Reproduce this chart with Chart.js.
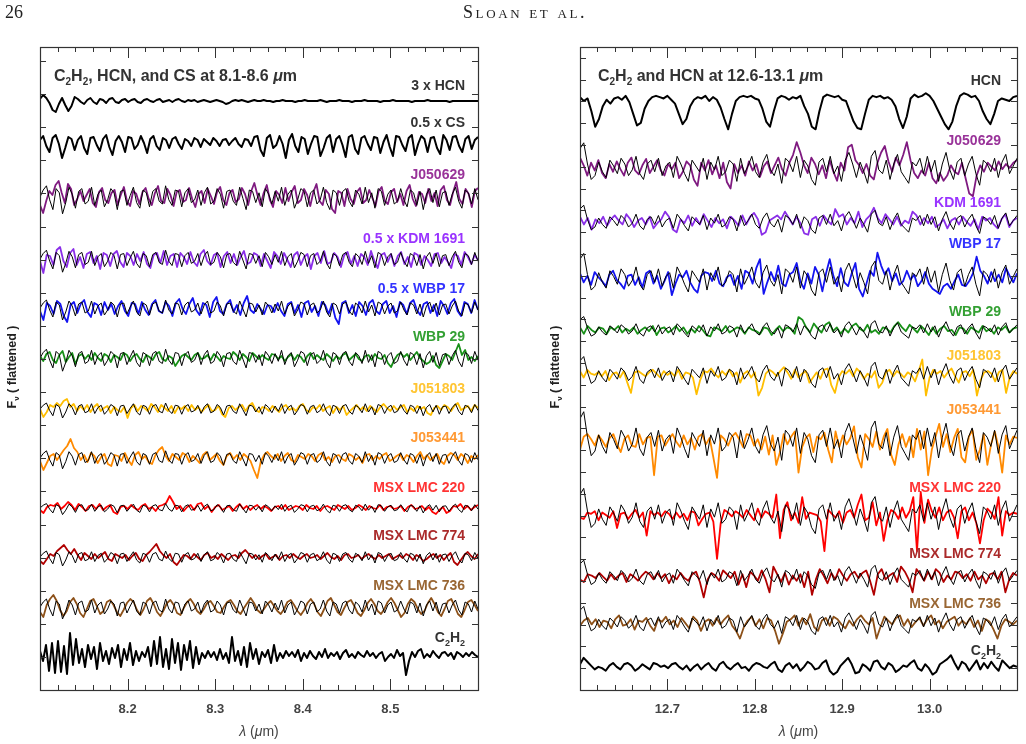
<!DOCTYPE html>
<html lang="en">
<head>
<meta charset="UTF-8">
<title>Sloan et al. - C2H2, HCN and CS bands</title>
<script src="https://cdn.jsdelivr.net/npm/chart.js"></script>
<style>
    body { margin: 0; width: 1026px; height: 744px; background: #fff; position: relative; overflow: hidden; }
    .hdr { position: absolute; top: 2px; font-family: "Liberation Serif", "DejaVu Serif", serif; font-size: 18px; line-height: 20px; color: #222; z-index: 2; }
    #pageNum { left: 5px; }
    #running { left: 463px; font-variant: small-caps; letter-spacing: 2.6px; }
    .panel { position: absolute; top: 0; width: 513px; height: 744px; }
</style>
</head>
<body>
<div class="hdr" id="pageNum">26</div>
<div class="hdr" id="running">Sloan et al.</div>
<div class="panel" style="left:0"><canvas id="leftChart" width="513" height="744"></canvas></div>
<div class="panel" style="left:513px"><canvas id="rightChart" width="513" height="744"></canvas></div>
<script>
// ---------- data: flattened flux (arbitrary units, relative to each row) ----------
// left panel, 8.1 - 8.6 um
var leftRange = [8.1, 8.6];
var leftTickLabels = ['8.2', '8.3', '8.4', '8.5'];

var hcnL = [2,6,3,-2,-9,-11,-3,3,-4,-10,-5,4,2,-1,-3,1,3,-1,-3,2,1,-2,2,3,-1,-2,1,2,-1,1,2,-1,-2,1,2,0,-1,1,2,-1,0,1,-1,1,2,0,-1,1,0,1,-1,0,1,0,-1,0,1,0,-1,-3,-2,0,1,0,1,0,-1,0,1,0,0,1,0,0,-1,0,0,1,0,0,0,-1,0,0,1,0,0,0,0,1,0,-1,0,0,0,1,0,0,0,-1,0,0,0,1,0,0,0,0,-1,0,0,0,1,0,0,0,0,0,-1,0,0,0,0,1,0,0,0,0,0,0,-1,0,0,0,0,0,0,0,0,0];
var csL = [2,6,-4,-10,4,7,-2,-16,-6,5,3,-8,2,6,-6,-12,4,5,-3,-9,3,7,-5,-13,1,6,0,-10,5,4,-7,-3,6,-1,-11,3,6,-4,-8,4,2,-6,3,5,-2,-7,3,1,-4,4,2,-5,3,0,-3,4,1,-4,2,3,-3,1,4,-2,-5,3,2,-4,5,6,-8,-14,4,7,-6,-3,6,-2,-16,2,8,-4,-10,5,3,-12,-2,6,5,-14,-6,4,7,-10,3,6,-3,-15,5,7,-7,-12,4,6,-2,-8,5,4,-11,0,7,-5,-14,6,5,-3,-9,4,7,-13,-2,6,3,-10,4,5,-6,-12,7,2,-8,5,6,-4,-10,3,6,-7,2,5];
var j050629L = [-8,-16,-4,6,2,12,16,4,-6,13,8,-8,-2,6,-4,2,8,-6,-10,5,9,-3,-6,4,7,-8,2,10,-4,-9,6,3,-7,5,9,-2,-8,4,11,-4,-6,8,2,-9,5,7,-5,-3,9,-2,-10,3,6,-6,8,1,-7,5,10,-3,-8,4,7,-5,-2,9,3,-8,6,14,2,-8,4,12,-3,-10,6,2,-6,9,-4,5,11,-6,-3,8,2,-9,5,13,-4,-8,7,3,-12,-16,6,4,-9,8,-2,-7,5,9,-6,-3,7,-1,-9,6,10,-4,-7,5,8,-5,3,-8,6,12,-2,-9,5,3,-6,8,-4,4,-9,7,11,-3,-8,5,15,-2,-7,8,3,-10,6,9];
var kdmL = [-2,-14,4,3,-6,9,12,-2,-8,6,10,-6,2,-9,5,7,-4,3,-10,6,4,-7,5,8,-3,-8,6,3,-6,5,-2,7,-5,-9,4,6,-4,8,-6,3,5,-8,6,2,-5,7,-3,-7,5,9,-2,-6,4,6,-8,3,7,-4,5,-6,2,8,-5,-3,6,4,-7,5,-2,-9,7,3,-5,6,-1,-8,4,7,-6,2,5,-10,3,6,-4,8,-5,-3,6,2,-8,4,7,-5,3,-7,5,2,-6,8,-2,-9,4,6,-3,5,-7,3,7,-5,2,-8,6,4,-6,3,-1,-7,5,6,-4,2,-3,-9,5,3,-6,7,2,-5,4,-1];
var wbp17L = [-3,-12,5,2,-6,7,4,-8,-14,3,6,-5,4,8,-4,-9,5,3,-7,6,-2,4,-6,2,7,-3,-8,5,4,-6,6,-2,-7,4,8,-3,-5,6,2,-8,5,9,-1,-6,4,10,-2,-7,5,3,-9,6,11,-3,-6,4,8,-4,3,-7,5,12,-2,-5,4,-1,-6,3,2,-4,5,-3,-8,4,6,-5,3,-9,5,7,-4,2,-8,6,3,-6,4,-10,-16,5,7,-5,3,-8,6,2,-7,5,8,-3,-6,4,7,-5,2,-9,6,3,-6,5,8,-2,-7,4,6,-5,3,-8,7,2,-6,5,9,-3,-8,6,4,-5,8,-2];
var wbp29L = [2,-3,4,6,-2,-5,3,7,-4,1,5,-6,2,4,-1,3,-2,5,0,-3,4,2,-4,3,1,-2,5,3,-3,2,4,-1,-4,3,1,-2,4,6,-1,-3,2,0,-8,-3,2,4,1,-2,3,5,-1,0,3,-2,4,1,-3,2,0,-1,6,3,-2,4,1,-3,5,2,-1,3,0,-2,4,3,-1,2,-3,1,4,-2,3,1,-4,2,5,-1,3,0,-2,4,1,-3,2,-1,3,5,-2,1,4,-1,-3,2,3,-2,4,0,-1,3,-5,-9,-2,3,5,1,4,-2,2,6,0,-3,-6,-4,2,-7,-10,-3,4,2,-2,6,14,3,8,-2,1,-3,2];
var j051803L = [0,-8,-3,4,2,6,3,8,10,2,5,-2,3,-1,4,-3,2,5,-2,1,3,-4,2,-1,-3,2,-9,1,4,-2,3,1,-2,5,2,-3,4,1,-2,3,-4,2,0,3,-2,4,-1,2,-3,1,4,-2,-1,3,-5,-8,1,3,-1,2,4,-2,3,6,-1,-3,2,1,-2,3,0,-3,2,4,-1,1,-2,3,5,-1,-3,2,0,4,-2,1,3,-4,2,-1,3,-6,-2,1,4,-1,2,-2,3,0,-3,2,5,1,-2,3,-1,2,4,-3,1,-2,3,0,2,-4,-6,1,3,-1,4,2,-2,3,6,-1,1,3,-2,4,1];
var j053441L = [-3,-12,-5,2,4,-2,3,8,12,19,10,6,-2,3,-4,5,2,-5,1,4,-6,-8,3,2,-3,5,-2,-7,3,6,-1,2,-4,-6,3,8,11,2,-3,4,1,-2,5,3,-4,2,-1,-5,3,6,-2,1,4,-3,-7,2,5,-1,3,-2,4,1,-3,-12,-20,-4,3,6,2,-1,4,-3,2,5,-2,-4,3,1,-1,4,2,-3,3,5,-2,1,-4,2,3,-1,-3,4,2,-2,1,-5,3,4,-2,2,-1,3,5,-3,-1,2,4,-2,3,1,-4,2,6,-1,3,-2,1,4,-3,-6,2,5,3,-2,4,1,-5,2,-1,3];
var msx220L = [-2,-5,1,3,2,5,-1,2,6,3,-2,4,1,-3,2,3,-1,4,-2,1,3,-4,-6,1,2,-1,3,0,-2,2,4,-1,1,-3,2,3,5,12,6,-1,2,-3,1,3,-2,4,5,-1,2,-4,1,3,-2,0,2,-3,1,4,-1,2,-2,1,3,-1,2,0,-3,1,2,-1,3,-2,0,2,1,-2,3,0,-1,2,-3,1,2,0,-2,3,1,-1,2,-2,0,3,1,-2,2,0,-1,3,-2,1,2,-1,0,2,-3,1,3,-1,0,2,-2,1,-4,-6,-2,1,-5,-3,2,1,4,-1,2,-2,1,3];
var msx774L = [-4,-7,-2,3,1,6,9,12,7,3,8,2,-3,4,1,-2,3,-1,2,5,-2,-4,3,1,-1,2,-3,1,4,-2,-4,2,5,9,13,6,2,-1,3,-5,-8,-3,2,1,-2,3,0,-3,2,4,-1,1,-2,3,0,-3,1,2,-1,4,7,3,-1,2,-2,1,3,-2,0,2,-3,1,2,-1,3,0,-2,1,3,-1,0,2,-2,1,4,0,-2,1,-3,2,3,-1,0,2,-2,1,3,0,-2,2,-1,1,3,-2,0,2,-1,3,1,-3,2,0,-4,-2,1,3,-1,2,-3,1,4,-5,-8,-3,2,5,1,-2,3];
var msx736L = [-5,-10,2,8,12,6,-3,-9,-4,5,9,3,-6,-10,-2,6,8,1,-7,-4,5,7,2,-5,-9,-3,4,8,5,-3,-8,-2,6,9,3,-5,-9,-3,4,7,2,-6,-8,-1,5,8,3,-4,-7,-2,4,6,1,-5,-6,0,5,7,2,-4,-7,-1,4,9,4,-3,-6,-2,3,6,1,-4,-7,-2,5,7,2,-4,-8,-3,4,8,3,-5,-9,-2,6,9,2,-5,-8,-1,5,7,1,-6,-9,-3,4,8,3,-4,-7,-2,5,9,4,-3,-10,-6,3,8,5,-2,-7,-4,4,9,3,-5,-9,-2,6,8,1,-7,-10,-3,5,7,2,-4];
var c2h2L = [4,-6,10,-16,12,-18,14,-17,9,-19,22,-10,16,-8,6,-12,10,-4,8,-14,12,-6,4,-9,7,-3,10,-12,6,-5,12,-10,4,-6,3,-2,8,-11,14,-9,18,-12,6,-14,16,-8,12,-15,10,-5,14,-13,8,-9,2,-3,4,-2,3,-5,6,-4,2,-8,18,-6,4,-10,8,-12,12,-4,6,-9,3,-2,5,-8,10,-6,2,-3,4,-1,3,-2,5,-6,2,-3,4,-1,-4,3,-2,6,-3,2,-1,3,-4,2,5,-2,1,-3,3,0,-2,4,-1,2,-3,1,3,-6,-2,1,-3,5,-1,2,-20,-6,3,-2,4,6,-3,1,-2,4,0,-3,2,3,-1,2,-4,3,1,-2,2,-1,3,0,-2];
// model fit (thin black line), drawn in every star row with its own scale
var modelL = [0,5,8,-2,-9,6,3,-12,-4,7,2,-8,4,6,-5,-3,7,-6,2,5,-7,-2,6,3,-9,4,5,-6,1,7,-4,-8,5,3,-7,4,6,-3,-5,8,-2,-6,5,4,-7,3,6,-4,-2,5,-6,3,7,-5,-3,6,2,-8,4,5,-3,-6,7,-1,-9,5,4,-4,3,-7,6,2,-5,4,-3,7,-6,2,5,-8,-2,6,4,-7,3,5,-5,-2,7,-4,-9,5,3,-6,4,6,-3,-7,5,2,-5,7,-4,3,-8,6,4,-6,2,5,-5,-3,6,-2,-7,5,3,-6,4,-9,2,6,-4,5,-7,3,4,-6,2,7,-3,-8,5,3,-5,6,-2];

var leftNames = ['3 x HCN', '0.5 x CS', 'J050629', '0.5 x KDM 1691', '0.5 x WBP 17', 'WBP 29', 'J051803', 'J053441', 'MSX LMC 220', 'MSX LMC 774', 'MSX LMC 736', 'C2H2'];
var leftSeries = [hcnL, csL, j050629L, kdmL, wbp17L, wbp29L, j051803L, j053441L, msx220L, msx774L, msx736L, c2h2L];
var leftOffsets = [589, 548, 493, 431, 382, 332, 281, 232, 182, 133, 83, 35];
var leftModelScale = [0, 0, 1.4, 1.1, 1.0, 1.1, 0.75, 0.9, 0.55, 0.75, 1.0, 0];
var leftYMax = 643, leftYStep = 33.1;

// right panel, 12.6 - 13.1 um
var rightRange = [12.6, 13.1];
var rightTickLabels = ['12.7', '12.8', '12.9', '13.0'];

var hcnR = [5,2,4,-6,-18,-12,-2,3,0,4,5,3,6,1,-8,-17,-15,-4,2,5,6,5,4,6,3,0,-8,-16,-12,-2,3,5,4,6,2,5,3,-3,-12,-20,-8,2,5,6,5,6,4,3,-4,-14,-18,-6,4,6,5,3,5,4,6,-2,-8,-18,-20,-6,5,7,6,5,6,3,2,-6,-14,-19,-20,-8,3,6,5,6,4,5,3,-2,-12,-19,-10,4,7,5,6,8,6,2,-4,-10,-16,-20,-14,-2,6,8,7,5,6,2,-6,-12,-16,-8,2,4,3,2,5,6];
var j050629R = [8,2,-6,4,-2,6,-4,-8,3,-3,5,-1,-6,4,8,-2,-5,2,7,-4,1,6,-2,-6,3,-1,4,-8,-3,5,2,-9,-14,4,-2,6,-5,2,-8,4,-11,-16,3,-4,2,-6,5,-2,3,-7,1,5,-4,2,8,-1,-6,4,10,20,12,2,-4,8,3,-5,2,-8,6,-3,-10,4,-2,16,18,6,2,-4,3,-6,-9,4,12,17,5,-3,8,2,10,20,6,-4,-8,-2,-6,4,-8,-12,-4,-10,-6,2,-3,-5,4,-8,-20,-22,-6,2,-3,4,1,-2,5,-1,3,0,4,6];
var kdmR = [4,-2,3,-6,2,-1,4,-3,2,5,1,-2,6,2,-4,1,3,-2,4,-5,-1,2,8,4,-6,-8,2,-1,5,-3,3,-2,6,1,-4,3,-1,2,-5,4,1,-3,5,-2,4,7,2,-10,-8,1,3,5,2,8,3,-2,4,-1,-9,-10,2,4,-3,5,1,-2,10,4,6,-2,3,-1,8,-4,2,5,11,3,-1,6,2,-2,4,-3,1,-1,8,5,-2,3,-1,4,-4,-2,2,-5,1,3,-2,4,0,-3,2,-6,4,1,3,-2,-5,2,6,-4,1,3];
var wbp17R = [4,-3,2,-5,5,1,-2,-6,3,6,-1,-4,-8,2,3,-5,1,-7,4,6,-4,2,-8,-2,5,-13,-4,3,1,6,-3,-8,-11,2,5,4,-2,6,-4,-6,1,3,-5,2,-8,6,4,-4,8,15,-12,-3,5,-2,10,-4,-6,3,5,12,-2,-8,4,-4,9,3,-10,4,15,2,-6,8,-3,-6,4,12,-8,-14,-4,6,2,20,10,3,8,-2,4,-5,-2,6,-1,3,-6,-2,5,-4,-8,-10,-12,-6,-4,-8,-2,3,-5,-6,-2,4,17,6,2,-4,5,-2,3,-3,8,2,-3,4];
var wbp29R = [2,-3,3,0,-2,2,1,-3,2,0,3,-2,1,-1,2,-3,0,2,-1,3,-4,1,2,-2,0,3,-1,2,-3,1,-2,3,0,-4,-5,2,1,-1,3,-2,0,2,1,-3,2,0,-1,-3,2,1,-4,0,3,-1,2,1,-3,10,8,2,-2,5,1,-2,4,6,-1,2,-3,1,-2,3,5,1,-1,4,-2,0,-3,2,1,-2,3,6,2,-1,4,1,-2,3,0,-4,2,-3,1,3,-1,0,-4,2,1,-3,2,0,-2,3,-1,1,-3,2,0,3,-2,1,2];
var j051803R = [3,-2,4,1,0,2,-1,3,-4,1,2,-2,3,-6,-14,2,3,1,-1,2,4,1,-2,3,0,2,-1,4,-3,2,1,-2,-15,-4,3,2,5,1,-2,3,0,4,-1,2,-6,1,3,-2,2,-16,-10,1,4,2,-1,3,6,2,-3,4,-2,1,3,-6,-2,2,-3,4,5,-8,-14,-2,3,1,4,-1,5,2,-3,1,-2,3,-10,-6,2,4,-1,3,1,-2,2,0,-5,3,12,-16,-2,4,1,3,-2,2,5,-1,-6,2,3,-1,4,-16,-4,2,3,1,-5,2,4,-14,-2,3,1];
var j053441R = [-6,4,6,2,-3,5,1,-4,3,6,-2,-8,2,5,-3,-4,6,-2,3,4,-26,4,5,-3,2,6,0,-4,5,-2,3,-6,4,6,-2,3,-12,-28,5,2,-3,4,7,2,-4,6,5,-3,2,-6,4,-10,5,-18,-8,6,-2,4,8,-24,-4,3,6,-8,4,2,7,-6,-16,8,-4,5,-2,3,12,-12,-20,6,2,-4,8,-6,4,10,-10,-18,-2,6,-4,4,-12,10,-6,8,-26,-6,4,14,-4,6,-8,3,10,-12,-16,4,9,-14,-6,6,-18,-2,8,-4,-24,5,-2,4,3];
var msx220R = [-2,-3,2,1,3,-4,2,0,-2,3,-10,1,2,-3,1,4,-2,2,-16,3,0,2,-1,3,1,-3,2,-2,1,-4,3,2,-8,-3,1,2,-5,-34,-6,4,2,-1,3,1,-2,4,0,-4,5,-2,3,1,-2,16,-18,4,10,-4,2,-6,14,-3,2,1,0,-5,-28,4,1,-2,3,-6,2,4,-2,8,16,-4,-2,10,-8,2,-20,-4,4,2,-3,6,-2,3,14,-28,18,-6,12,3,-2,6,-4,2,4,-2,-18,3,6,-4,2,-6,-22,-4,5,2,-3,14,-16,3,0,2,1];
var msx774R = [-2,-4,2,1,-1,3,0,-3,2,-2,1,3,-4,2,0,-3,1,4,2,-2,3,-1,2,-5,1,-2,3,-1,-3,2,4,-4,-16,-2,3,1,-3,5,2,-1,4,-6,2,-8,4,1,-3,5,-2,-12,8,2,-4,3,-6,1,-3,2,-8,4,-14,-2,6,1,-5,3,-2,6,1,-3,2,4,-1,3,5,-3,-14,2,6,-2,1,3,-4,8,4,-2,-12,6,2,-3,4,-2,6,3,-4,1,-2,4,3,-1,2,-3,4,-2,1,-5,2,3,-2,4,-12,-2,3,1];
var msx736R = [-2,2,4,-1,3,-3,2,1,-4,3,6,-2,-1,3,-5,2,1,4,-2,-6,3,1,5,-1,2,-3,4,0,-4,5,2,-6,1,3,-2,4,-1,3,6,-2,-6,-12,-3,2,5,-2,3,-4,4,2,-6,-16,-8,1,3,6,-2,4,-1,7,-3,-6,2,4,-2,5,3,-1,-4,2,-2,3,6,2,-1,4,-12,-3,5,2,-1,4,6,-2,3,-3,1,4,-2,3,6,-1,2,-4,1,3,5,-2,2,-1,4,-3,2,-6,3,1,-5,-12,-2,3,1,-1,2];
var c2h2R = [2,7,4,1,-2,0,-1,-3,1,3,0,-2,2,3,1,-3,-1,2,0,-2,3,2,0,1,-1,2,3,0,-2,1,-3,0,2,-2,1,3,-1,-3,2,4,0,-2,1,3,-1,0,-3,1,3,2,0,-1,2,4,-2,-4,1,3,-1,2,-3,0,4,2,-2,-1,3,5,-3,-6,-4,1,4,7,2,-5,-4,2,0,-3,4,5,0,-2,3,1,-4,-2,1,0,3,5,-1,-3,2,-1,-6,-4,2,4,6,9,3,-2,4,2,-3,1,5,-2,3,-1,4,0,-3,5,2,-1,1,0];
var modelR = [10,13,2,-6,-4,3,-2,-5,4,1,-3,5,2,-4,-1,6,-3,-6,2,4,-2,5,-4,1,3,-5,6,2,-3,-7,4,1,-2,5,-6,3,-1,6,-4,-2,4,2,-7,5,-3,1,6,-2,-5,3,7,-1,-4,2,-8,5,3,-2,6,-5,4,1,-6,-9,3,5,-2,6,-3,1,-7,4,8,2,-5,3,-2,-8,6,9,-1,-3,4,-6,2,7,-2,-5,-8,3,1,5,-3,6,-2,4,-7,2,8,-1,-6,3,5,-4,2,6,-3,-9,4,2,-2,5,-5,3,7,-3,1,5];

var rightNames = ['HCN', 'J050629', 'KDM 1691', 'WBP 17', 'WBP 29', 'J051803', 'J053441', 'MSX LMC 220', 'MSX LMC 774', 'MSX LMC 736', 'C2H2'];
var rightSeries = [hcnR, j050629R, kdmR, wbp17R, wbp29R, j051803R, j053441R, msx220R, msx774R, msx736R, c2h2R];
var rightOffsets = [456, 406, 364, 320, 280, 245, 193, 136, 88, 52, 18];
var rightModelScale = [0, 1.5, 1.0, 1.5, 0.8, 1.1, 1.8, 1.6, 1.0, 1.0, 0];
var rightYMax = 500, rightYStep = 16.95;

// ---------- styles ----------
var lineColors = {
    'J050629': '#7f1a80', 'KDM 1691': '#8a2ee8', 'WBP 17': '#1414f0', 'WBP 29': '#189018',
    'J051803': '#ffbe00', 'J053441': '#ff8a00', 'MSX LMC 220': '#ff0000', 'MSX LMC 774': '#b00000', 'MSX LMC 736': '#8c5018'
};
var labelColors = {
    'J050629': '#993399', 'KDM 1691': '#9933ff', 'WBP 17': '#3333ff', 'WBP 29': '#33a033',
    'J051803': '#ffc533', 'J053441': '#ff9933', 'MSX LMC 220': '#ff3333', 'MSX LMC 774': '#aa2a2a', 'MSX LMC 736': '#996633'
};
var leftLabelY = [85, 122, 174, 238, 288, 336, 388, 437, 487, 535, 585, 637];
var rightLabelY = [80, 140, 202, 243, 311, 355, 409, 487, 553, 603, 650];
var FONT = '"Liberation Sans", Arial, sans-serif';

function starKey(name) {
    return name.replace('0.5 x ', '');
}

function spectrum(values, range, offset, scale) {
    var n = values.length;
    return values.map(function (v, i) {
        return { x: range[0] + (range[1] - range[0]) * i / (n - 1), y: offset + v * scale };
    });
}

function buildDatasets(names, series, offsets, modelScale, model, range) {
    var ds = [];
    names.forEach(function (name, i) {
        var col = lineColors[starKey(name)] || '#000';
        ds.push({ data: spectrum(series[i], range, offsets[i], 1), borderColor: col,
                  borderWidth: col === '#000' ? 2 : 1.8, order: 1 });
        if (modelScale[i] > 0) {
            ds.push({ data: spectrum(model, range, offsets[i], modelScale[i]), borderColor: '#000',
                      borderWidth: 1, order: 0 });
        }
    });
    return ds;
}

// text with subscripts / italics: parts = [[text, kind]], kind '' | 's' (subscript) | 'i' (italic)
function richText(ctx, parts, x, y, size, align, weight) {
    function fontFor(k) {
        return (k === 'i' ? 'italic ' : '') + weight + ' ' + (k === 's' ? Math.round(size * 0.62) : size) + 'px ' + FONT;
    }
    var total = 0;
    parts.forEach(function (p) { ctx.font = fontFor(p[1]); total += ctx.measureText(p[0]).width; });
    var cx = align === 'right' ? x - total : (align === 'center' ? x - total / 2 : x);
    ctx.textAlign = 'left';
    parts.forEach(function (p) {
        ctx.font = fontFor(p[1]);
        ctx.fillText(p[0], cx, y + (p[1] === 's' ? size * 0.25 : 0));
        cx += ctx.measureText(p[0]).width;
    });
}

var panelDeco = {
    id: 'panelDeco',
    afterDraw: function (chart, args, o) {
        var ctx = chart.ctx, a = chart.chartArea, xs = chart.scales.x, ys = chart.scales.y;
        ctx.save();
        // frame
        ctx.strokeStyle = '#333';
        ctx.lineWidth = 1.2;
        ctx.strokeRect(a.left + 0.5, a.top + 0.5, a.right - a.left, a.bottom - a.top);
        // inward ticks
        ctx.lineWidth = 1;
        ctx.beginPath();
        for (var k = 1; k < 25; k++) {
            var px = Math.round(xs.getPixelForValue(o.range[0] + k * 0.02)) + 0.5;
            var len = k % 5 === 0 ? 11 : 5;
            ctx.moveTo(px, a.top); ctx.lineTo(px, a.top + len);
            ctx.moveTo(px, a.bottom); ctx.lineTo(px, a.bottom - len);
        }
        for (var v = o.yStep; v < ys.max; v += o.yStep) {
            var py = Math.round(ys.getPixelForValue(v)) + 0.5;
            ctx.moveTo(a.left, py); ctx.lineTo(a.left + 6, py);
            ctx.moveTo(a.right, py); ctx.lineTo(a.right - 6, py);
        }
        ctx.stroke();
        // tick labels
        ctx.fillStyle = '#444';
        ctx.font = 'bold 13px ' + FONT;
        ctx.textAlign = 'center';
        ctx.textBaseline = 'alphabetic';
        o.tickLabels.forEach(function (t) {
            ctx.fillText(t, xs.getPixelForValue(parseFloat(t)), 713);
        });
        // x axis title
        richText(ctx, [['\u03bb', 'i'], [' (', ''], ['\u03bc', 'i'], ['m)', '']], (a.left + a.right) / 2, 736, 14, 'center', 'normal');
        // y axis title
        ctx.save();
        ctx.translate(o.yTitleX, 367);
        ctx.rotate(-Math.PI / 2);
        ctx.fillStyle = '#222';
        richText(ctx, [['F', ''], ['\u03bd', 's'], [' ( flattened )', '']], 0, 4, 12.5, 'center', 'bold');
        ctx.restore();
        // panel title
        ctx.fillStyle = '#333';
        richText(ctx, o.title, o.titleX, 81, 16, 'left', 'bold');
        // row labels
        o.names.forEach(function (name, i) {
            ctx.fillStyle = labelColors[starKey(name)] || '#333';
            var parts = name === 'C2H2' ? [['C', ''], ['2', 's'], ['H', ''], ['2', 's']] : [[name, '']];
            richText(ctx, parts, o.labelRight, o.labelY[i] + 5, 14, 'right', 'bold');
        });
        ctx.restore();
    }
};

function makeChart(id, datasets, padding, range, yMax, deco) {
    deco.range = range;
    return new Chart(document.getElementById(id), {
        type: 'line',
        data: { datasets: datasets },
        options: {
            responsive: false,
            animation: false,
            devicePixelRatio: 1,
            layout: { padding: padding },
            parsing: false,
            elements: { point: { radius: 0 }, line: { tension: 0, borderJoinStyle: 'round' } },
            plugins: { legend: { display: false }, tooltip: { enabled: false }, panelDeco: deco },
            scales: {
                x: { type: 'linear', min: range[0], max: range[1], display: false },
                y: { type: 'linear', min: 0, max: yMax, display: false }
            }
        },
        plugins: [panelDeco]
    });
}

makeChart('leftChart',
    buildDatasets(leftNames, leftSeries, leftOffsets, leftModelScale, modelL, leftRange),
    { left: 40, right: 35, top: 47, bottom: 54 }, leftRange, leftYMax,
    {
        yStep: leftYStep, tickLabels: leftTickLabels, yTitleX: 12, titleX: 54, labelRight: 465,
        names: leftNames, labelY: leftLabelY,
        title: [['C', ''], ['2', 's'], ['H', ''], ['2', 's'], [', HCN, and CS at 8.1-8.6 ', ''], ['\u03bc', 'i'], ['m', '']]
    });

makeChart('rightChart',
    buildDatasets(rightNames, rightSeries, rightOffsets, rightModelScale, modelR, rightRange),
    { left: 67, right: 9, top: 47, bottom: 54 }, rightRange, rightYMax,
    {
        yStep: rightYStep, tickLabels: rightTickLabels, yTitleX: 42, titleX: 85, labelRight: 488,
        names: rightNames, labelY: rightLabelY,
        title: [['C', ''], ['2', 's'], ['H', ''], ['2', 's'], [' and HCN at 12.6-13.1 ', ''], ['\u03bc', 'i'], ['m', '']]
    });
</script>
</body>
</html>
